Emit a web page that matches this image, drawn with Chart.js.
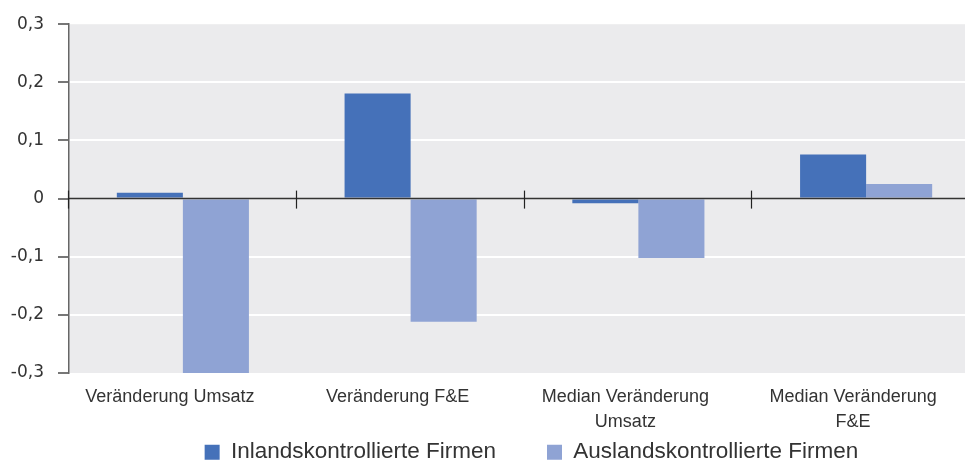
<!DOCTYPE html>
<html>
<head>
<meta charset="utf-8">
<script src="https://cdn.jsdelivr.net/npm/chart.js@4"></script>
<style>
  html, body { margin: 0; padding: 0; background: #fff; overflow: hidden; }
  #wrap { width: 980px; height: 462px; }
</style>
</head>
<body>
<div id="wrap"><canvas id="chart"></canvas></div>
<script>
const categories = [
    'Veränderung Umsatz',
    'Veränderung F&E',
    ['Median Veränderung', 'Umsatz'],
    ['Median Veränderung', 'F&E']
];
const inlandValues = [0.01, 0.181, -0.008, 0.076];
const auslandValues = [-0.3, -0.212, -0.102, 0.025];
const yTicks = [-0.3, -0.2, -0.1, 0, 0.1, 0.2, 0.3];

const TEXT = '#333';

// Grauer Hintergrund der Plotfläche
const plotBackground = {
    id: 'plotBackground',
    beforeDraw(chart) {
        const { ctx, chartArea: a } = chart;
        ctx.save();
        ctx.fillStyle = '#ebebed';
        ctx.fillRect(a.left, a.top, a.right - a.left, a.bottom - a.top);
        ctx.restore();
    }
};

// Nulllinie mit Trennstrichen zwischen den Kategorien
const zeroLine = {
    id: 'zeroLine',
    afterDatasetsDraw(chart) {
        const { ctx, chartArea: a, scales } = chart;
        const y0 = scales.y.getPixelForValue(0);
        ctx.save();
        ctx.strokeStyle = '#333';
        ctx.lineWidth = 1.5;
        ctx.beginPath();
        ctx.moveTo(a.left, y0);
        ctx.lineTo(a.right, y0);
        ctx.stroke();
        ctx.lineWidth = 1.2;
        ctx.strokeStyle = '#222';
        for (let i = 0; i < categories.length; i++) {
            const x = i === 0 ? a.left : (scales.x.getPixelForTick(i - 1) + scales.x.getPixelForTick(i)) / 2;
            ctx.beginPath();
            ctx.moveTo(Math.round(x) - 0.5, y0 - 8);
            ctx.lineTo(Math.round(x) - 0.5, y0 + 10);
            ctx.stroke();
        }
        ctx.restore();
    }
};

// Legende: breiter Abstand zwischen den Einträgen, aber flache Box
const LEGEND_HEIGHT = 26;
const LEGEND_SHIFT_X = 7;
const LEGEND_SHIFT_Y = 46;
const compactLegend = {
    id: 'compactLegend',
    beforeLayout(chart) {
        const legend = chart.legend;
        if (!legend || legend._compact) return;
        const fit = legend.fit;
        const drawItems = legend._draw;
        legend.fit = function () {
            fit.call(this);
            this.height = LEGEND_HEIGHT;
        };
        legend._draw = function () {
            const ctx = this.ctx;
            ctx.save();
            ctx.translate(LEGEND_SHIFT_X, -LEGEND_SHIFT_Y);
            drawItems.call(this);
            ctx.restore();
        };
        legend._compact = true;
    }
};

new Chart(document.getElementById('chart'), {
    type: 'bar',
    data: {
        labels: categories,
        datasets: [{
            label: 'Inlandskontrollierte Firmen',
            data: inlandValues,
            backgroundColor: '#4571b9',
            categoryPercentage: 0.58,
            barPercentage: 1
        }, {
            label: 'Auslandskontrollierte Firmen',
            data: auslandValues,
            backgroundColor: '#8fa3d4',
            categoryPercentage: 0.58,
            barPercentage: 1
        }]
    },
    options: {
        responsive: true,
        maintainAspectRatio: false,
        animation: false,
        layout: { padding: { left: 6, top: 13, right: 0, bottom: 0 } },
        plugins: {
            legend: {
                position: 'bottom',
                fullSize: false,
                labels: {
                    color: TEXT,
                    font: { family: 'Liberation Sans, Arial, sans-serif', size: 22.5 },
                    boxWidth: 15,
                    boxHeight: 15,
                    padding: 51
                }
            },
            tooltip: { enabled: false }
        },
        scales: {
            x: {
                grid: { display: false },
                border: { display: false },
                afterFit(scale) { scale.height = 63; },
                ticks: {
                    color: TEXT,
                    padding: 3,
                    labelOffset: -13,
                    font: { family: 'Liberation Sans, Arial, sans-serif', size: 18, lineHeight: 1.4 },
                    maxRotation: 0
                }
            },
            y: {
                min: -0.3,
                max: 0.3,
                afterBuildTicks(scale) {
                    scale.ticks = yTicks.map(v => ({ value: v }));
                },
                afterFit(scale) { scale.width = 63; },
                ticks: {
                    color: TEXT,
                    padding: 14,
                    font: { family: 'DejaVu Sans, sans-serif', size: 17 },
                    callback: v => Math.abs(v) < 1e-9 ? '0' : v.toFixed(1).replace('.', ',')
                },
                grid: {
                    tickLength: 11,
                    tickColor: '#777',
                    color: ctx => {
                        const v = ctx.tick ? ctx.tick.value : 0;
                        if (Math.abs(v) < 1e-9 || Math.abs(Math.abs(v) - 0.3) < 1e-9) return 'rgba(0,0,0,0)';
                        return '#ffffff';
                    },
                    lineWidth: 2
                },
                border: { color: '#666', width: 1.5 }
            }
        }
    },
    plugins: [plotBackground, zeroLine, compactLegend]
});
</script>
</body>
</html>
